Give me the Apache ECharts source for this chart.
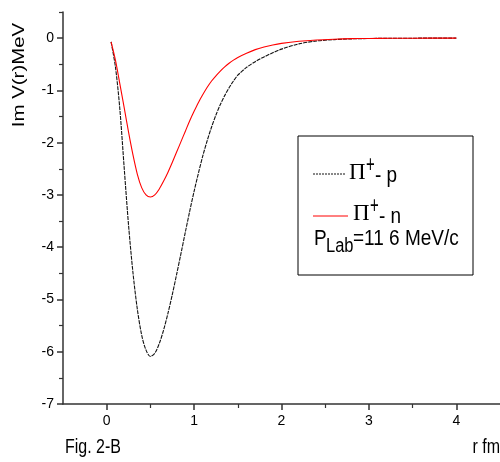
<!DOCTYPE html>
<html><head><meta charset="utf-8">
<script src="https://cdn.jsdelivr.net/npm/echarts@6/dist/echarts.min.js"></script>
<style>html,body{margin:0;padding:0;background:#fff}#c{width:500px;height:462px}</style>
</head><body><div id="c"></div>
<script>
// r (fm)
const rValues = [0.05,0.10,0.15,0.20,0.25,0.30,0.35,0.40,0.45,0.50,0.55,0.60,0.65,0.70,0.75,0.80,0.85,0.90,0.95,1.00,1.05,1.10,1.15,1.20,1.25,1.30,1.35,1.40,1.45,1.50,1.6,1.7,1.8,1.9,2.0,2.2,2.4,2.6,2.8,3.0,3.25,3.5,4.0];
// Im V(r) for pi+ - p (black)
const pValues = [-0.07,-0.55,-1.35,-2.48,-3.58,-4.48,-5.18,-5.68,-5.97,-6.09,-6.03,-5.85,-5.59,-5.27,-4.91,-4.52,-4.12,-3.71,-3.31,-2.93,-2.58,-2.25,-1.96,-1.70,-1.47,-1.27,-1.10,-0.95,-0.82,-0.71,-0.56,-0.45,-0.36,-0.28,-0.21,-0.11,-0.055,-0.028,-0.014,-0.007,-0.003,-0.001,0];
// Im V(r) for pi+ - n (red)
const nValues = [-0.07,-0.42,-0.87,-1.33,-1.80,-2.23,-2.60,-2.86,-3.00,-3.04,-3.00,-2.89,-2.74,-2.57,-2.38,-2.18,-1.98,-1.78,-1.58,-1.40,-1.23,-1.08,-0.94,-0.82,-0.72,-0.63,-0.55,-0.48,-0.42,-0.37,-0.29,-0.22,-0.17,-0.13,-0.10,-0.06,-0.035,-0.02,-0.01,-0.006,-0.003,-0.001,0];
const xTicks = [0,1,2,3,4];
const xMinorTicks = [0.5,1.5,2.5,3.5];
const yTicks = [-7,-6,-5,-4,-3,-2,-1,0];
const yMinorTicks = [-6.5,-5.5,-4.5,-3.5,-2.5,-1.5,-0.5,0.5];

const axisColor = '#333';
const font = "'Liberation Sans', Arial, sans-serif";
const serif = "'Liberation Serif', 'Times New Roman', serif";
const chart = echarts.init(document.getElementById('c'));
const pairs = vals => rValues.map((r,i)=>[r, vals[i]]);
const txt = (s, x, y, size, scaleY, align) => ({type: 'text', x: x, y: y, scaleY: scaleY || 1.2,
  style: {text: s, font: size + 'px ' + font, fill: '#000', align: align || 'left', verticalAlign: 'middle'}});
chart.setOption({
  animation: false,
  grid: {left: 63, right: 0, top: 12, bottom: 58},
  xAxis: [{
    type: 'value', min: -0.5, max: 4.5,
    axisLine: {show: true, onZero: false, lineStyle: {color: axisColor, width: 1.5}},
    axisTick: {show: true, customValues: xTicks, length: 6, lineStyle: {color: axisColor, width: 1.5}},
    axisLabel: {customValues: xTicks, color: '#000', fontSize: 14, fontFamily: font, margin: 10},
    splitLine: {show: false}
  },{
    type: 'value', min: -0.5, max: 4.5, position: 'bottom',
    axisLine: {show: false, onZero: false},
    axisTick: {show: true, customValues: xMinorTicks, length: 4, lineStyle: {color: axisColor, width: 1.2}},
    axisLabel: {show: false},
    splitLine: {show: false}
  }],
  yAxis: [{
    type: 'value', min: -7, max: 0.5,
    axisLine: {show: true, onZero: false, lineStyle: {color: axisColor, width: 1.5}},
    axisTick: {show: true, customValues: yTicks, length: 6, lineStyle: {color: axisColor, width: 1.5}},
    axisLabel: {customValues: yTicks, color: '#000', fontSize: 14, fontFamily: font, margin: 9},
    splitLine: {show: false}
  },{
    type: 'value', min: -7, max: 0.5, position: 'left',
    axisLine: {show: false, onZero: false},
    axisTick: {show: true, customValues: yMinorTicks, length: 4, lineStyle: {color: axisColor, width: 1.2}},
    axisLabel: {show: false},
    splitLine: {show: false}
  }],
  series: [{
    type: 'line', name: 'pi+ p', data: pairs(pValues), showSymbol: false, smooth: 0.3,
    lineStyle: {color: '#111', width: 1.1, type: [4,1]}
  },{
    type: 'line', name: 'pi+ n', data: pairs(nValues), showSymbol: false, smooth: 0.3,
    lineStyle: {color: '#ff0000', width: 1.1}
  }],
  graphic: [
    {type: 'text', x: 19, y: 75, rotation: Math.PI/2, scaleX: 1.2,
      style: {text: 'Im V(r)MeV', font: "17px " + font, fill: '#000', align: 'center', verticalAlign: 'middle'}},
    txt('Fig. 2-B', 65, 447, 16, 1.25),
    txt('r fm', 500, 447, 16, 1.25, 'right'),
    {type: 'rect', shape: {x: 298, y: 136, width: 175, height: 139}, style: {fill: '#fff', stroke: '#000', lineWidth: 1}},
    {type: 'line', shape: {x1: 313, y1: 174, x2: 346, y2: 174}, style: {stroke: '#111', lineWidth: 1, lineDash: [2,1]}},
    {type: 'line', shape: {x1: 313, y1: 216, x2: 348, y2: 216}, style: {stroke: '#ff0000', lineWidth: 1}},
    {type: 'text', x: 349, y: 173, style: {text: 'Π', font: "23px " + serif, fill: '#000', align: 'left', verticalAlign: 'middle'}},
    txt('+', 366, 165, 15, 1.6),
    txt('- p', 375, 175.5, 19),
    {type: 'text', x: 353, y: 214, style: {text: 'Π', font: "23px " + serif, fill: '#000', align: 'left', verticalAlign: 'middle'}},
    txt('+', 370, 206, 15, 1.6),
    txt('- n', 379, 216.5, 19),
    txt('P', 314, 238.5, 19),
    txt('Lab', 326, 247, 16.5),
    txt('=11 6 MeV/c', 353, 238.5, 19)
  ]
});
</script></body></html>
